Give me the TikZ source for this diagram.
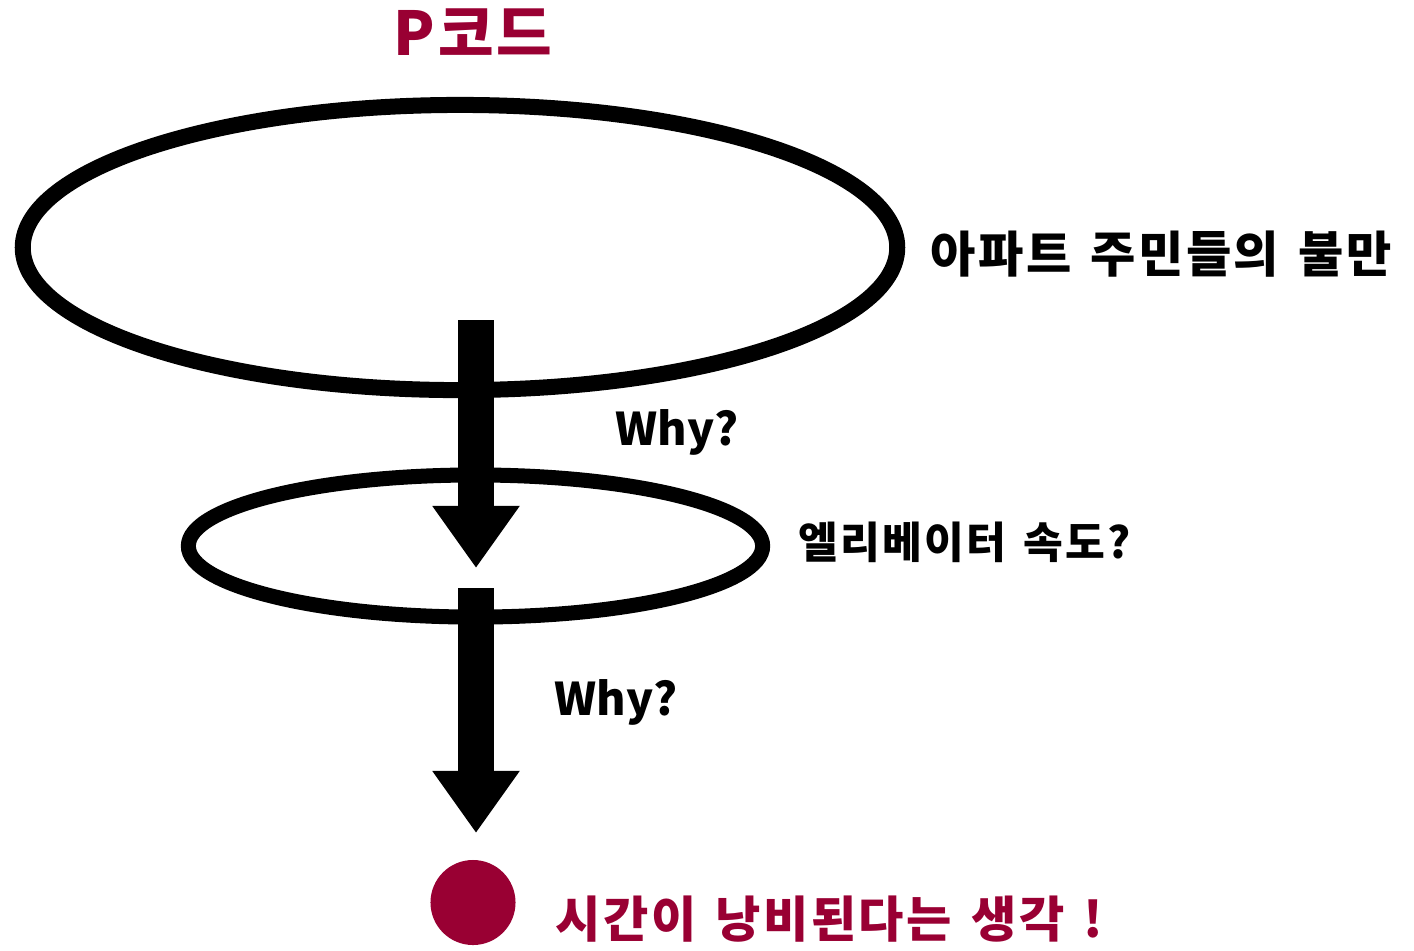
\documentclass[tikz,border=0pt]{standalone}
\usepackage{fontspec}
\newfontfamily\kr{Noto Sans CJK KR}[LetterSpace=5,WordSpace=1.4]
\newfontfamily\krplain{Noto Sans CJK KR}
\usetikzlibrary{shapes.geometric,arrows.meta}
\definecolor{wine}{RGB}{153,0,51}
\tikzset{
  ring/.style={draw=black,ellipse,inner sep=0pt},
  bigarrow/.style={line width=0.35cm,-{Triangle[length=0.62cm,width=0.83cm]}},
  lbl/.style={inner sep=0pt,font=\kr\bfseries},
}
\begin{document}
\begin{tikzpicture}[x=0.01cm,y=-0.01cm]
\useasboundingbox (0,0) rectangle (1414,950);
% ellipses
\node[ring,line width=0.16cm,minimum width=8.74cm,minimum height=2.85cm] (big) at (460,247.5) {};
\node[ring,line width=0.15cm,minimum width=5.74cm,minimum height=1.42cm] (small) at (475.5,546) {};
% arrows
\coordinate (a1s) at (476,320);
\coordinate (a1e) at (476,568);
\coordinate (a2s) at (476,588);
\coordinate (a2e) at (476,833);
\draw[bigarrow] (a1s) -- (a1e);
\draw[bigarrow] (a2s) -- (a2e);
% end dot
\node[circle,fill=wine,inner sep=0pt,minimum size=0.85cm] (dot) at (473,902.5) {};
% texts
\node[lbl,text=wine,anchor=base west,font=\kr\bfseries\fontsize{17.2}{20}\selectfont] (title) at (393,55) {P코드};
\node[lbl,anchor=base west,font=\kr\bfseries\fontsize{14}{16}\selectfont] (t1) at (930,272) {아파트 주민들의 불만};
\node[lbl,anchor=base west,font=\krplain\bfseries\fontsize{12.8}{15}\selectfont] (why1) at (615,445) {Why?};
\node[lbl,anchor=base west,font=\kr\bfseries\fontsize{12.3}{14}\selectfont] (t2) at (798,558) {엘리베이터 속도?};
\node[lbl,anchor=base west,font=\krplain\bfseries\fontsize{12.8}{15}\selectfont] (why2) at (554,715) {Why?};
\node[lbl,text=wine,anchor=base west,font=\kr\bfseries\fontsize{14}{16}\selectfont] (t3) at (555,937) {시간이 낭비된다는 생각 !};
\end{tikzpicture}
\end{document}
